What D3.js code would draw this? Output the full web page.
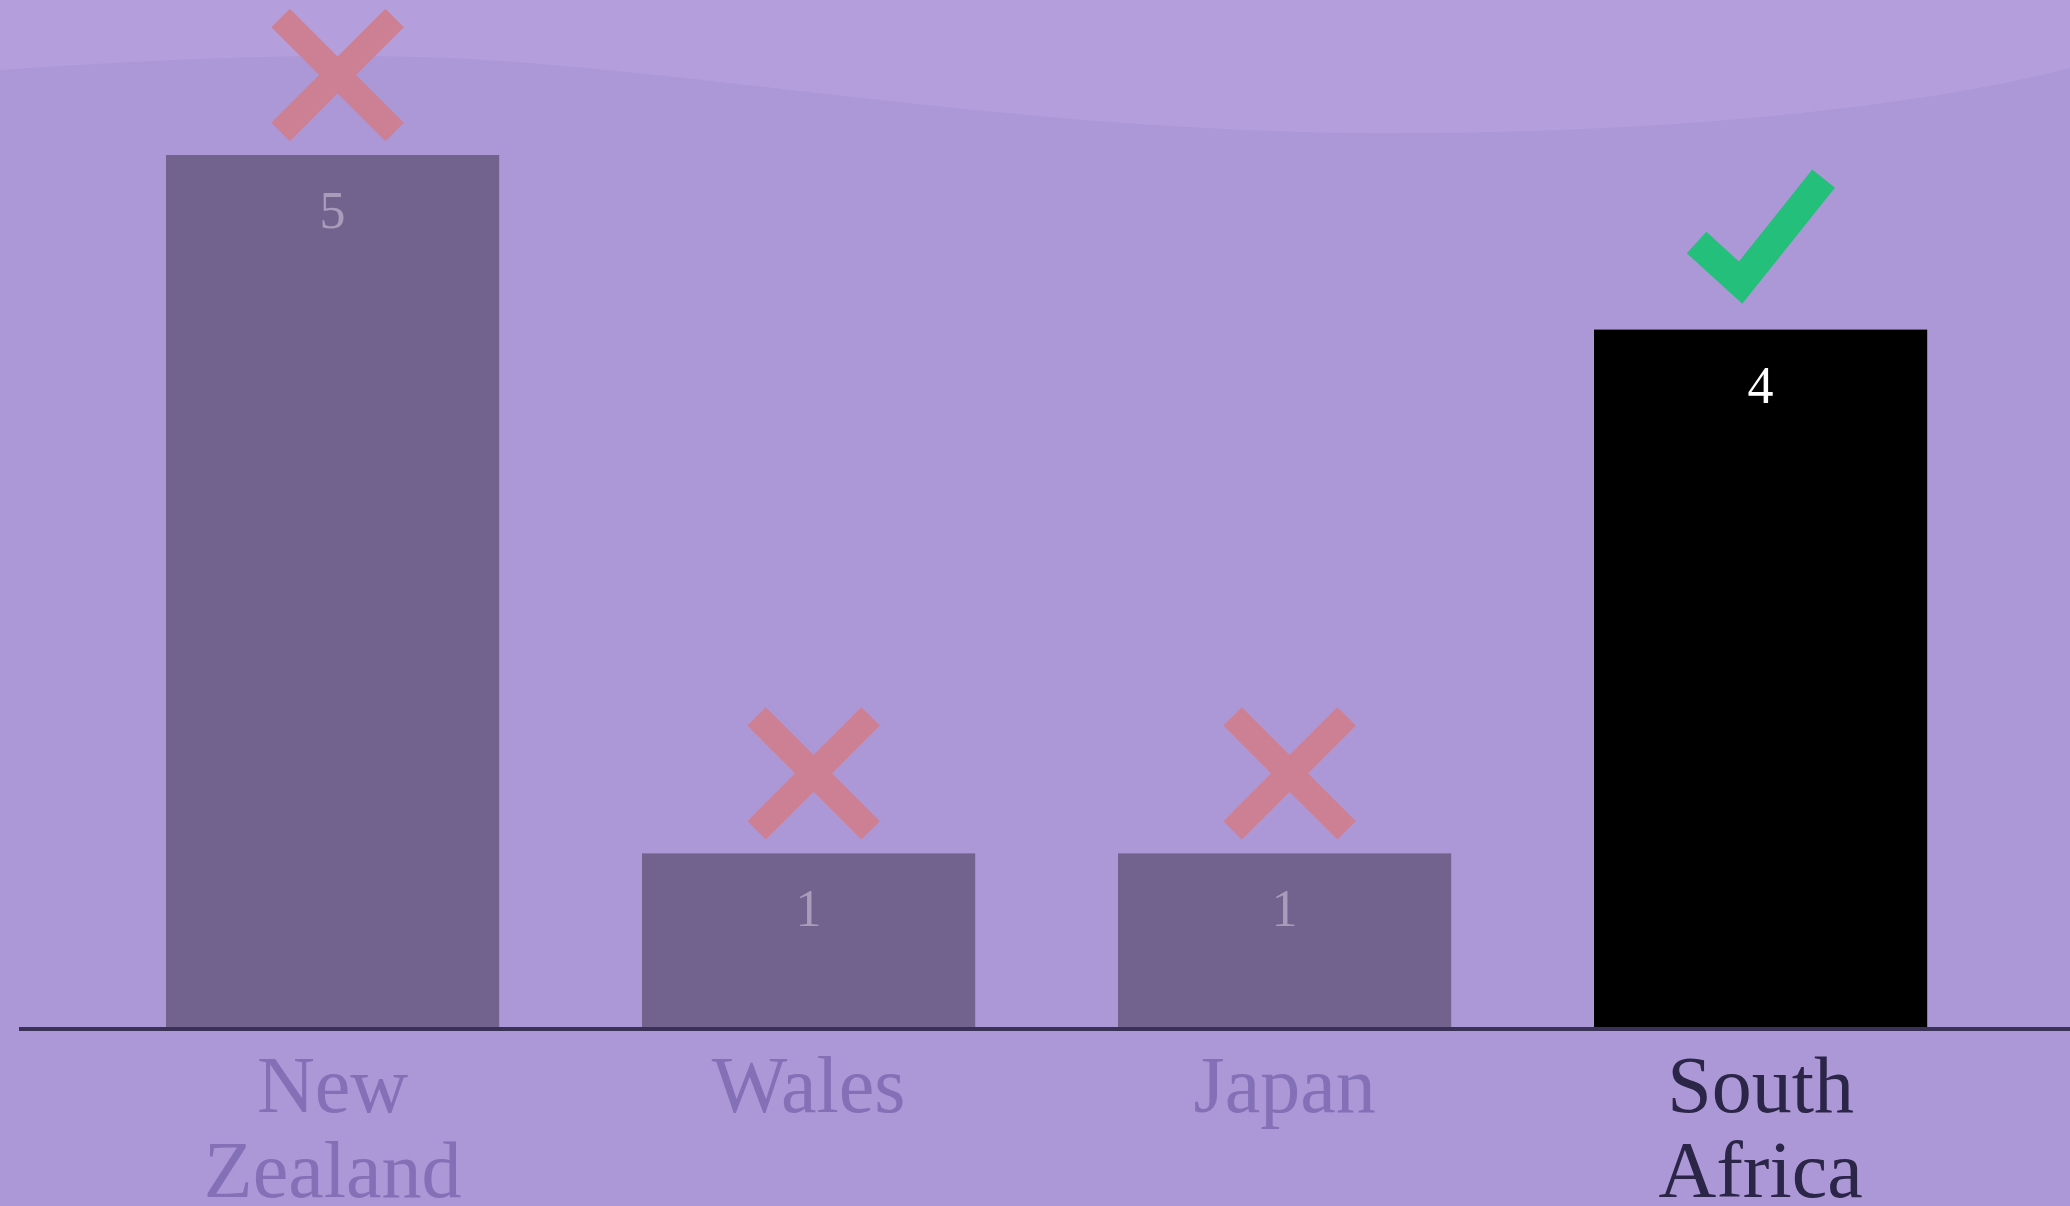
<!DOCTYPE html>
<html>
<head>
<meta charset="utf-8">
<script src="https://cdn.jsdelivr.net/npm/d3@7"></script>
<style>
  html, body { margin: 0; padding: 0; background: #ac97d7; overflow: hidden; }
  svg { display: block; }
</style>
</head>
<body>
<script>
var width = 2070, height = 1206;

// data
var teams = ["New Zealand", "Wales", "Japan", "South Africa"];
var wins = [5, 1, 1, 4];
var outcome = ["lost", "lost", "lost", "won"];
var labelLines = [["New", "Zealand"], ["Wales"], ["Japan"], ["South", "Africa"]];
var highlight = "South Africa";

var rows = teams.map(function (t, i) {
    return {team: t, value: wins[i], result: outcome[i], lines: labelLines[i]};
});

var svg = d3.select("body").append("svg")
    .attr("width", width)
    .attr("height", height);

// background wave
svg.append("rect").attr("width", width).attr("height", height).attr("fill", "#ac97d7");
svg.append("path")
    .attr("d", "M0,0 L0,70 C150,60 300,52 450,58 C700,70 1000,128 1350,133 C1700,136 1950,100 2070,68 L2070,0 Z")
    .attr("fill", "#b49edc");

var x = d3.scaleBand()
    .domain(teams)
    .range([94.6, 1998.6])
    .paddingInner(0.3)
    .paddingOuter(0.15);

var y = d3.scaleLinear()
    .domain([0, 5])
    .range([1028, 155]);

var g = svg.append("g");

var bar = g.selectAll("g.bar")
    .data(rows)
    .enter().append("g")
    .attr("class", "bar");

bar.append("rect")
    .attr("x", function (d) { return x(d.team); })
    .attr("y", function (d) { return y(d.value); })
    .attr("width", x.bandwidth())
    .attr("height", function (d) { return y(0) - y(d.value); })
    .attr("fill", function (d) { return d.team === highlight ? "#000000" : "#72638e"; });

bar.append("text")
    .attr("x", function (d) { return x(d.team) + x.bandwidth() / 2; })
    .attr("y", function (d) { return y(d.value) + 73; })
    .attr("text-anchor", "middle")
    .attr("font-family", "'Liberation Serif', 'DejaVu Serif', serif")
    .attr("font-size", 52)
    .attr("fill", function (d) { return d.team === highlight ? "#ffffff" : "#a89cba"; })
    .text(function (d) { return d.value; });

// result markers
bar.each(function (d) {
    var cx = x(d.team) + x.bandwidth() / 2;
    var top = y(d.value);
    var sel = d3.select(this);
    if (d.result === "won") {
        sel.append("path")
            .attr("d", d3.line()([[cx - 64, top - 87], [cx - 20, top - 47], [cx + 63, top - 151]]))
            .attr("fill", "none")
            .attr("stroke", "#24bf7b")
            .attr("stroke-width", 29)
            .attr("stroke-linejoin", "miter")
            .attr("stroke-linecap", "butt");
    } else {
        var mx = cx + 5, my = top - 80, a = 57;
        sel.append("path")
            .attr("d", "M" + (mx - a) + "," + (my - a) + "L" + (mx + a) + "," + (my + a) +
                       "M" + (mx + a) + "," + (my - a) + "L" + (mx - a) + "," + (my + a))
            .attr("fill", "none")
            .attr("stroke", "#cd8094")
            .attr("stroke-width", 26)
            .attr("stroke-linecap", "butt");
    }
});

// baseline
svg.append("line")
    .attr("x1", 19).attr("x2", width)
    .attr("y1", y(0) + 1).attr("y2", y(0) + 1)
    .attr("stroke", "#3a3256")
    .attr("stroke-width", 4);

// category labels
var lab = svg.selectAll("text.cat")
    .data(rows)
    .enter().append("text")
    .attr("class", "cat")
    .attr("text-anchor", "middle")
    .attr("font-family", "'Liberation Serif', 'DejaVu Serif', serif")
    .attr("font-size", 80)
    .attr("fill", function (d) { return d.team === highlight ? "#2b2548" : "#8370b6"; });

lab.selectAll("tspan")
    .data(function (d) { return d.lines.map(function (l) { return {text: l, team: d.team}; }); })
    .enter().append("tspan")
    .attr("x", function (d) { return x(d.team) + x.bandwidth() / 2; })
    .attr("y", function (d, i) { return 1112 + i * 85; })
    .text(function (d) { return d.text; });
</script>
</body>
</html>
